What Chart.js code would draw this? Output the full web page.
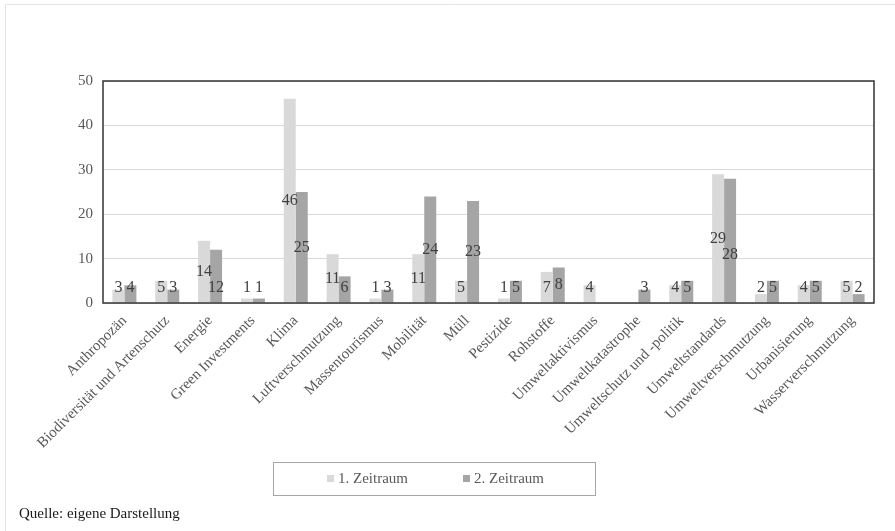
<!DOCTYPE html>
<html lang="de">
<head>
<meta charset="utf-8">
<title>Themen nach Zeitraum</title>
<script src="https://cdn.jsdelivr.net/npm/chart.js@4/dist/chart.umd.min.js"></script>
<style>
  html, body { margin: 0; padding: 0; background: #ffffff; }
  #wrap { position: relative; width: 895px; height: 531px; }
  canvas { display: block; }
</style>
</head>
<body>
<div id="wrap"><canvas id="chart" width="895" height="531"></canvas></div>
<script>
const categories = [
  'Anthropozän', 'Biodiversität und Artenschutz', 'Energie', 'Green Investments',
  'Klima', 'Luftverschmutzung', 'Massentourismus', 'Mobilität', 'Müll',
  'Pestizide', 'Rohstoffe', 'Umweltaktivismus', 'Umweltkatastrophe',
  'Umweltschutz und -politik', 'Umweltstandards', 'Umweltverschmutzung',
  'Urbanisierung', 'Wasserverschmutzung'
];
const period1 = [3, 5, 14, 1, 46, 11, 1, 11, 5, 1, 7, 4, 0, 4, 29, 2, 4, 5];
const period2 = [4, 3, 12, 1, 25, 6, 3, 24, 23, 5, 8, 0, 3, 5, 28, 5, 5, 2];
const seriesNames = ['1. Zeitraum', '2. Zeitraum'];
const yTicks = [0, 10, 20, 30, 40, 50];
const sourceNote = 'Quelle: eigene Darstellung';

const SERIF = '"Liberation Serif", "Times New Roman", serif';
const colors = ['#d9d9d9', '#a5a5a5'];

// Light frame, plot border, value labels, legend box and source line
const decor = {
  id: 'decor',
  beforeDraw(chart) {
    const ctx = chart.ctx;
    ctx.save();
    ctx.strokeStyle = '#e4e4e4';
    ctx.lineWidth = 1;
    ctx.beginPath();
    ctx.moveTo(5.5, 531);
    ctx.lineTo(5.5, 4.5);
    ctx.lineTo(895, 4.5);
    ctx.stroke();
    ctx.restore();
  },
  afterDatasetsDraw(chart) {
    const ctx = chart.ctx;
    const area = chart.chartArea;
    const y = chart.scales.y;
    ctx.save();

    // value labels centred in each bar, kept clear of the axis and each other
    ctx.font = '16px ' + SERIF;
    ctx.fillStyle = '#404040';
    ctx.textAlign = 'center';
    ctx.textBaseline = 'middle';
    const floorY = area.bottom - 15;
    const m0 = chart.getDatasetMeta(0).data;
    const m1 = chart.getDatasetMeta(1).data;
    categories.forEach((c, i) => {
      const v0 = period1[i], v1 = period2[i];
      let y0 = Math.min(y.getPixelForValue(v0 / 2), floorY);
      let y1 = Math.min(y.getPixelForValue(v1 / 2), floorY);
      const w0 = ctx.measureText(String(v0)).width;
      const w1 = ctx.measureText(String(v1)).width;
      const hOverlap = (m1[i].x - m0[i].x) < (w0 + w1) / 2;
      if (v0 && v1 && hOverlap && Math.abs(y0 - y1) < 14) {
        y1 = y0 + 16;
      }
      if (v0) ctx.fillText(String(v0), m0[i].x, y0);
      if (v1) ctx.fillText(String(v1), m1[i].x, y1);
    });

    // plot border
    ctx.strokeStyle = '#333333';
    ctx.lineWidth = 1.5;
    ctx.strokeRect(area.left, area.top, area.right - area.left, area.bottom - area.top);

    ctx.restore();
  },
  afterDraw(chart) {
    const ctx = chart.ctx;
    ctx.save();

    // legend
    const box = { x: 273, y: 462, w: 322, h: 33 };
    ctx.strokeStyle = '#a6a6a6';
    ctx.lineWidth = 1;
    ctx.strokeRect(box.x + 0.5, box.y + 0.5, box.w, box.h);
    ctx.font = '15px ' + SERIF;
    ctx.textBaseline = 'middle';
    ctx.textAlign = 'left';
    const cy = box.y + box.h / 2 + 0.5;
    const startX = [327, 463];
    chart.data.datasets.forEach((ds, i) => {
      ctx.fillStyle = ds.backgroundColor;
      ctx.fillRect(startX[i], cy - 4, 7, 7);
      ctx.fillStyle = '#595959';
      ctx.fillText(ds.label, startX[i] + 11, cy);
    });

    // source line
    ctx.font = '15px ' + SERIF;
    ctx.fillStyle = '#1a1a1a';
    ctx.textBaseline = 'middle';
    ctx.fillText(sourceNote, 19, 514);

    ctx.restore();
  }
};

new Chart(document.getElementById('chart'), {
  type: 'bar',
  data: {
    labels: categories,
    datasets: [
      { label: seriesNames[0], data: period1, backgroundColor: colors[0] },
      { label: seriesNames[1], data: period2, backgroundColor: colors[1] }
    ]
  },
  options: {
    responsive: false,
    animation: false,
    devicePixelRatio: 1,
    layout: { padding: { top: 81, right: 21, bottom: 78, left: 0 } },
    datasets: {
      bar: { categoryPercentage: 0.56, barPercentage: 1.0, borderWidth: 0 }
    },
    plugins: {
      legend: { display: false },
      tooltip: { enabled: false },
      title: { display: false }
    },
    scales: {
      x: {
        grid: { display: false, drawTicks: false },
        border: { display: false },
        ticks: {
          autoSkip: false,
          minRotation: 45,
          maxRotation: 45,
          padding: 9,
          color: '#595959',
          font: { family: SERIF, size: 15 }
        },
        afterFit(scale) { scale.height = 150; }
      },
      y: {
        min: 0,
        max: 50,
        afterBuildTicks(scale) { scale.ticks = yTicks.map(v => ({ value: v })); },
        grid: { color: '#d9d9d9', lineWidth: 1, drawTicks: false },
        border: { display: false },
        ticks: {
          padding: 10,
          color: '#595959',
          font: { family: SERIF, size: 15 }
        },
        afterFit(scale) { scale.width = 103; }
      }
    }
  },
  plugins: [decor]
});
</script>
</body>
</html>
